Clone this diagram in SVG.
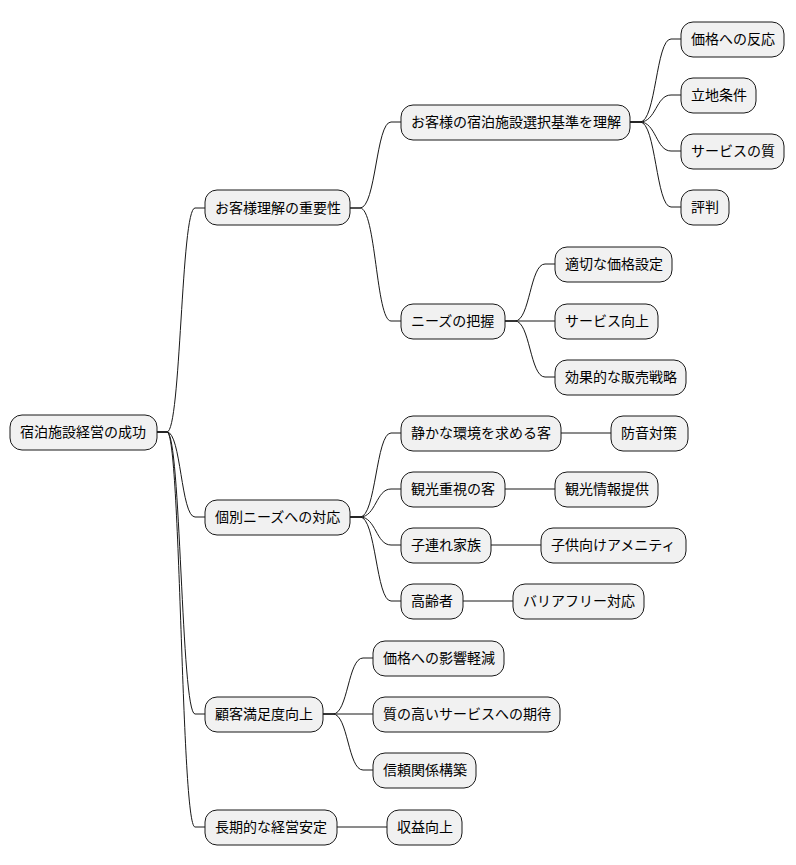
<svg xmlns="http://www.w3.org/2000/svg" width="796" height="865" viewBox="0 0 796 865">
<style>
rect{fill:#F1F1F1;stroke:#181818;stroke-width:1;}
text{font-family:"Noto Sans CJK JP","Noto Sans",sans-serif;font-size:14px;fill:#000;}
#connectors path{fill:none;stroke:#181818;stroke-width:1;}
</style>
<rect x="0" y="0" width="796" height="865" style="fill:#fff;stroke:none"/>
<g id="connectors">
<path d="M157 432 L167 432 C181 432,181 208,195 208 L205 208"/>
<path d="M157 432 L167 432 C181 432,181 517,195 517 L205 517"/>
<path d="M157 432 L167 432 C181 432,181 714,195 714 L205 714"/>
<path d="M157 432 L167 432 C181 432,181 827,195 827 L205 827"/>
<path d="M350 208 L360 208 C376 208,376 122,391 122 L401 122"/>
<path d="M350 208 L360 208 C376 208,376 321,391 321 L401 321"/>
<path d="M630 122 L640 122 C656 122,656 39,671 39 L681 39"/>
<path d="M630 122 L640 122 C656 122,656 95,671 95 L681 95"/>
<path d="M630 122 L640 122 C656 122,656 151,671 151 L681 151"/>
<path d="M630 122 L640 122 C656 122,656 207,671 207 L681 207"/>
<path d="M505 321 L515 321 C530 321,530 264,545 264 L555 264"/>
<path d="M505 321 L555 321"/>
<path d="M505 321 L515 321 C530 321,530 377,545 377 L555 377"/>
<path d="M350 517 L360 517 C376 517,376 433,391 433 L401 433"/>
<path d="M350 517 L360 517 C376 517,376 489,391 489 L401 489"/>
<path d="M350 517 L360 517 C376 517,376 545,391 545 L401 545"/>
<path d="M350 517 L360 517 C376 517,376 601,391 601 L401 601"/>
<path d="M561 433 L611 433"/>
<path d="M505 489 L555 489"/>
<path d="M491 545 L541 545"/>
<path d="M463 601 L513 601"/>
<path d="M323 714 L333 714 C348 714,348 658,363 658 L373 658"/>
<path d="M323 714 L373 714"/>
<path d="M323 714 L333 714 C348 714,348 770,363 770 L373 770"/>
<path d="M337 827 L387 827"/>
</g>
<g id="n0"><rect x="10" y="415" width="147" height="35" rx="12"/><text x="20" y="437">宿泊施設経営の成功</text></g>
<g id="n1"><rect x="205" y="190" width="145" height="35" rx="12"/><text x="215" y="213">お客様理解の重要性</text></g>
<g id="n2"><rect x="205" y="500" width="145" height="35" rx="12"/><text x="215" y="522">個別ニーズへの対応</text></g>
<g id="n3"><rect x="205" y="697" width="118" height="35" rx="12"/><text x="215" y="719">顧客満足度向上</text></g>
<g id="n4"><rect x="205" y="810" width="132" height="35" rx="12"/><text x="215" y="832">長期的な経営安定</text></g>
<g id="n5"><rect x="401" y="105" width="229" height="35" rx="12"/><text x="411" y="127">お客様の宿泊施設選択基準を理解</text></g>
<g id="n6"><rect x="401" y="304" width="104" height="35" rx="12"/><text x="411" y="326">ニーズの把握</text></g>
<g id="n7"><rect x="681" y="22" width="103" height="35" rx="12"/><text x="691" y="44">価格への反応</text></g>
<g id="n8"><rect x="681" y="78" width="75" height="35" rx="12"/><text x="691" y="100">立地条件</text></g>
<g id="n9"><rect x="681" y="134" width="103" height="35" rx="12"/><text x="691" y="156">サービスの質</text></g>
<g id="n10"><rect x="681" y="190" width="48" height="35" rx="12"/><text x="691" y="212">評判</text></g>
<g id="n11"><rect x="555" y="247" width="117" height="35" rx="12"/><text x="565" y="269">適切な価格設定</text></g>
<g id="n12"><rect x="555" y="304" width="103" height="35" rx="12"/><text x="565" y="326">サービス向上</text></g>
<g id="n13"><rect x="555" y="360" width="131" height="35" rx="12"/><text x="565" y="382">効果的な販売戦略</text></g>
<g id="n14"><rect x="401" y="416" width="160" height="35" rx="12"/><text x="411" y="438">静かな環境を求める客</text></g>
<g id="n15"><rect x="611" y="416" width="77" height="35" rx="12"/><text x="621" y="438">防音対策</text></g>
<g id="n16"><rect x="401" y="472" width="104" height="35" rx="12"/><text x="411" y="494">観光重視の客</text></g>
<g id="n17"><rect x="555" y="472" width="103" height="35" rx="12"/><text x="565" y="494">観光情報提供</text></g>
<g id="n18"><rect x="401" y="528" width="90" height="35" rx="12"/><text x="411" y="550">子連れ家族</text></g>
<g id="n19"><rect x="541" y="528" width="145" height="35" rx="12"/><text x="551" y="550">子供向けアメニティ</text></g>
<g id="n20"><rect x="401" y="584" width="62" height="35" rx="12"/><text x="411" y="606">高齢者</text></g>
<g id="n21"><rect x="513" y="584" width="131" height="35" rx="12"/><text x="523" y="606">バリアフリー対応</text></g>
<g id="n22"><rect x="373" y="641" width="131" height="35" rx="12"/><text x="383" y="663">価格への影響軽減</text></g>
<g id="n23"><rect x="373" y="697" width="187" height="35" rx="12"/><text x="383" y="719">質の高いサービスへの期待</text></g>
<g id="n24"><rect x="373" y="753" width="103" height="35" rx="12"/><text x="383" y="775">信頼関係構築</text></g>
<g id="n25"><rect x="387" y="810" width="75" height="35" rx="12"/><text x="397" y="832">収益向上</text></g>
</svg>
